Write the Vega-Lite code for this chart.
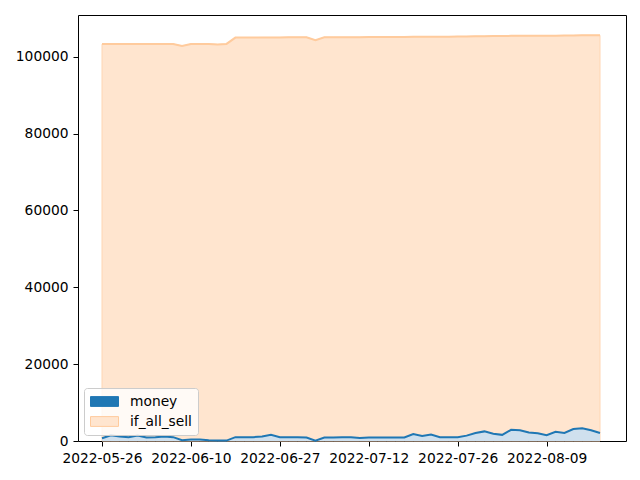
{
  "$schema": "https://vega.github.io/schema/vega-lite/v6.json",
  "width": 548,
  "height": 426,
  "autosize": "none",
  "padding": {"left": 78, "top": 15, "right": 14, "bottom": 39},
  "config": {
    "font": "DejaVu Sans",
    "view": {"stroke": "black", "strokeWidth": 1},
    "axis": {"grid": false, "domain": false, "tickColor": "black", "tickSize": 5, "labelColor": "black", "labelFontSize": 13.8, "labelFont": "DejaVu Sans", "title": null, "labelPadding": 5}
  },
  "data": {"values": [
    {"date": "2022-05-26", "money": 700, "if_all_sell": 103300},
    {"date": "2022-05-27", "money": 1500, "if_all_sell": 103300},
    {"date": "2022-05-30", "money": 1200, "if_all_sell": 103300},
    {"date": "2022-05-31", "money": 1000, "if_all_sell": 103300},
    {"date": "2022-06-01", "money": 1400, "if_all_sell": 103300},
    {"date": "2022-06-02", "money": 900, "if_all_sell": 103350},
    {"date": "2022-06-06", "money": 1000, "if_all_sell": 103350},
    {"date": "2022-06-07", "money": 1200, "if_all_sell": 103350},
    {"date": "2022-06-08", "money": 1000, "if_all_sell": 103350},
    {"date": "2022-06-09", "money": 200, "if_all_sell": 102800},
    {"date": "2022-06-10", "money": 400, "if_all_sell": 103350},
    {"date": "2022-06-13", "money": 400, "if_all_sell": 103350},
    {"date": "2022-06-14", "money": 200, "if_all_sell": 103350},
    {"date": "2022-06-15", "money": 100, "if_all_sell": 103200},
    {"date": "2022-06-16", "money": 100, "if_all_sell": 103350},
    {"date": "2022-06-17", "money": 1000, "if_all_sell": 105000},
    {"date": "2022-06-20", "money": 1000, "if_all_sell": 105000},
    {"date": "2022-06-21", "money": 1000, "if_all_sell": 105000},
    {"date": "2022-06-22", "money": 1200, "if_all_sell": 105050},
    {"date": "2022-06-24", "money": 1600, "if_all_sell": 105050},
    {"date": "2022-06-27", "money": 1000, "if_all_sell": 105050},
    {"date": "2022-06-28", "money": 1000, "if_all_sell": 105100},
    {"date": "2022-06-29", "money": 1000, "if_all_sell": 105100},
    {"date": "2022-06-30", "money": 900, "if_all_sell": 105100},
    {"date": "2022-07-01", "money": 100, "if_all_sell": 104300},
    {"date": "2022-07-04", "money": 900, "if_all_sell": 105100},
    {"date": "2022-07-05", "money": 900, "if_all_sell": 105100},
    {"date": "2022-07-06", "money": 1000, "if_all_sell": 105100},
    {"date": "2022-07-07", "money": 1000, "if_all_sell": 105100},
    {"date": "2022-07-11", "money": 800, "if_all_sell": 105100},
    {"date": "2022-07-12", "money": 900, "if_all_sell": 105150},
    {"date": "2022-07-13", "money": 900, "if_all_sell": 105150},
    {"date": "2022-07-14", "money": 900, "if_all_sell": 105150},
    {"date": "2022-07-15", "money": 900, "if_all_sell": 105150},
    {"date": "2022-07-18", "money": 900, "if_all_sell": 105150},
    {"date": "2022-07-19", "money": 1800, "if_all_sell": 105200},
    {"date": "2022-07-20", "money": 1300, "if_all_sell": 105200},
    {"date": "2022-07-21", "money": 1700, "if_all_sell": 105250},
    {"date": "2022-07-22", "money": 1000, "if_all_sell": 105250},
    {"date": "2022-07-25", "money": 1000, "if_all_sell": 105250},
    {"date": "2022-07-26", "money": 1000, "if_all_sell": 105300},
    {"date": "2022-07-27", "money": 1400, "if_all_sell": 105300},
    {"date": "2022-07-28", "money": 2100, "if_all_sell": 105350},
    {"date": "2022-07-29", "money": 2500, "if_all_sell": 105350},
    {"date": "2022-08-01", "money": 1900, "if_all_sell": 105400},
    {"date": "2022-08-02", "money": 1600, "if_all_sell": 105400},
    {"date": "2022-08-03", "money": 2900, "if_all_sell": 105450},
    {"date": "2022-08-04", "money": 2800, "if_all_sell": 105450},
    {"date": "2022-08-05", "money": 2200, "if_all_sell": 105450},
    {"date": "2022-08-08", "money": 2000, "if_all_sell": 105500},
    {"date": "2022-08-09", "money": 1500, "if_all_sell": 105500},
    {"date": "2022-08-10", "money": 2400, "if_all_sell": 105500},
    {"date": "2022-08-11", "money": 2100, "if_all_sell": 105550},
    {"date": "2022-08-12", "money": 3100, "if_all_sell": 105550},
    {"date": "2022-08-15", "money": 3300, "if_all_sell": 105600},
    {"date": "2022-08-16", "money": 2800, "if_all_sell": 105600},
    {"date": "2022-08-17", "money": 2100, "if_all_sell": 105600}
  ]},
  "encoding": {
    "x": {
      "field": "date", "type": "ordinal",
      "scale": {"type": "point", "padding": 0, "range": [24, 522]},
      "axis": {"values": ["2022-05-26", "2022-06-10", "2022-06-27", "2022-07-12", "2022-07-26", "2022-08-09"], "labelAngle": 0}
    }
  },
  "layer": [
    {
      "mark": {"type": "area", "fill": "#ffe5cf", "stroke": "#ffd6b3", "strokeWidth": 1},
      "encoding": {
        "y": {"field": "if_all_sell", "type": "quantitative", "scale": {"domain": [0, 110880], "nice": false, "zero": true},
          "axis": {"values": [0, 20000, 40000, 60000, 80000, 100000], "format": "d"}}
      }
    },
    {
      "mark": {"type": "area", "fill": "#cfe0ee"},
      "encoding": {
        "y": {"field": "money", "type": "quantitative"}
      }
    },
    {
      "transform": [{"fold": ["money", "if_all_sell"], "as": ["series", "val"]}],
      "mark": {"type": "line", "strokeWidth": 2},
      "encoding": {
        "y": {"field": "val", "type": "quantitative"},
        "color": {
          "field": "series", "type": "nominal",
          "scale": {"domain": ["money", "if_all_sell"], "range": ["#1f77b4", "#ffcb9d"]},
          "legend": {
            "title": null,
            "orient": "bottom-left",
            "offset": 6,
            "padding": 6,
            "fillColor": "rgba(255,255,255,0.8)",
            "strokeColor": "#cccccc",
            "cornerRadius": 3,
            "labelFontSize": 13.8,
            "labelColor": "black",
            "labelFont": "DejaVu Sans",
            "labelOffset": 18,
            "symbolType": "M-2,-0.7H2V0.7H-2Z",
            "symbolSize": 196,
            "symbolOffset": 7,
            "rowPadding": 5,
            "encode": {
              "symbols": {"update": {
                "fill": [{"test": "datum.value === 'money'", "value": "#1f77b4"}, {"value": "#ffe5cf"}],
                "stroke": [{"test": "datum.value === 'money'", "value": "#1f77b4"}, {"value": "#ffd6b3"}],
                "strokeWidth": {"value": 1},
                "opacity": {"value": 1}
              }}
            }
          }
        }
      }
    }
  ]
}
